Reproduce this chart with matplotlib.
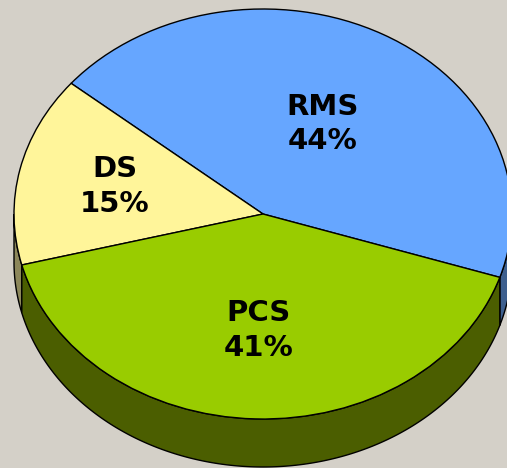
import numpy as np
import matplotlib
matplotlib.use("Agg")
import matplotlib.pyplot as plt
from matplotlib.patches import Wedge, Polygon

# ------------------------------------------------------------------
#                              Data
# ------------------------------------------------------------------

labels = ["RMS", "DS", "PCS"]
values = [44, 15, 41]

top_colors = ["#66a6ff", "#fff59a", "#99cc00"]
side_colors = ["#3d5f8e", "#8c875a", "#4b5e00"]

# ------------------------------------------------------------------
#                         Layout settings
# ------------------------------------------------------------------

W, H = 507, 468
cx, cy = 263, 214          # pie centre (px)
a, b = 249, 205            # ellipse semi axes (px)
depth = 48 / b             # side height in data units
start = -18                # first slice angle (deg), counterclockwise
label_r = [0.50, 0.61, 0.57]
bg = "#d4d0c8"

fig = plt.figure(figsize=(W / 100, H / 100), dpi=100)
fig.patch.set_facecolor(bg)
ax = fig.add_axes([0, 0, 1, 1])
ax.set_facecolor(bg)
ax.set_xlim(-cx / a, (W - cx) / a)
ax.set_ylim((cy - H) / b, cy / b)
ax.set_aspect("auto")
ax.axis("off")

# slice angles
fracs = np.array(values, dtype=float) / sum(values)
edges = start + 360 * np.concatenate([[0], np.cumsum(fracs)])

# ------------------------------------------------------------------
#                       Sides (front half only)
# ------------------------------------------------------------------

for i in range(len(values)):
    t1, t2 = edges[i], edges[i + 1]
    # visible side is where sin < 0 -> angles 180..360 (mod 360)
    for lo, hi in [(180, 360), (-180, 0), (540, 720)]:
        s1, s2 = max(t1, lo), min(t2, hi)
        if s2 <= s1:
            continue
        t = np.radians(np.linspace(s1, s2, 200))
        xs, ys = np.cos(t), np.sin(t)
        pts = np.vstack([np.column_stack([xs, ys]),
                         np.column_stack([xs[::-1], ys[::-1] - depth])])
        ax.add_patch(Polygon(pts, closed=True, facecolor=side_colors[i],
                             edgecolor="black", linewidth=1.0, zorder=1))

# ------------------------------------------------------------------
#                             Top face
# ------------------------------------------------------------------

for i in range(len(values)):
    ax.add_patch(Wedge((0, 0), 1, edges[i], edges[i + 1],
                       facecolor=top_colors[i], edgecolor="black",
                       linewidth=1.0, zorder=2))

    mid = np.radians((edges[i] + edges[i + 1]) / 2)
    r = label_r[i]
    ax.text(r * np.cos(mid), r * np.sin(mid),
            f"{labels[i]}\n{values[i]}%",
            ha="center", va="center", fontsize=21, fontweight="bold",
            family="DejaVu Sans", linespacing=1.3, color="black", zorder=3)

fig.savefig("out.png", dpi=100, facecolor=bg)
